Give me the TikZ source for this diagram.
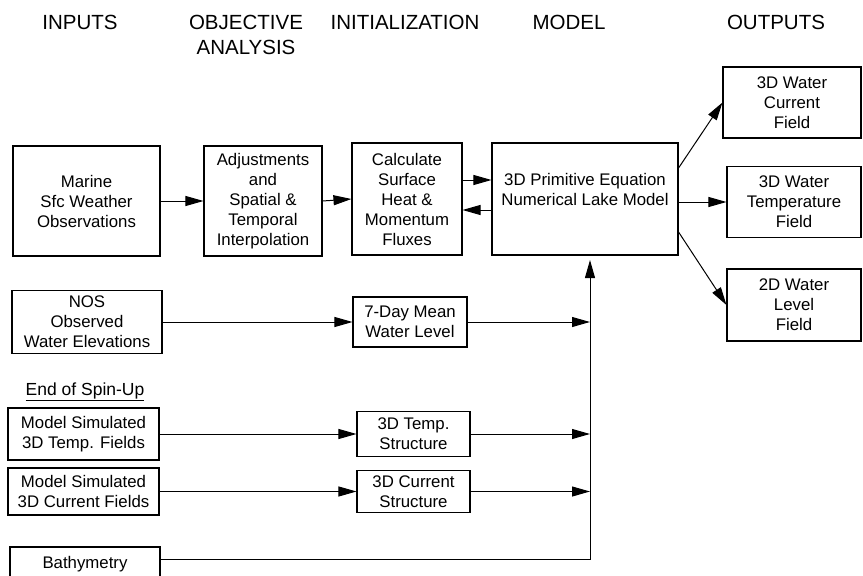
\documentclass[tikz,border=0pt]{standalone}
\usepackage{fontspec}
\setmainfont{Liberation Sans}
\usetikzlibrary{arrows.meta,positioning,calc}

\begin{document}
\begin{tikzpicture}[
    x=1pt, y=-1pt,
    box/.style={rectangle, draw, line width=1.1pt, align=center, inner sep=2pt, font=\fontsize{16.8}{20}\selectfont},
    header/.style={align=center, inner sep=0pt, font=\fontsize{20.5}{25}\selectfont},
    arrow/.style={-{Triangle[length=18pt,width=10pt]}, line width=1pt}
]
\useasboundingbox (0,0) rectangle (863,576);

% Column headings
\node[header] (hinputs) at (80,22) {INPUTS};
\node[header] (hobjana) at (246,34.5) {OBJECTIVE\\ANALYSIS};
\node[header] (hinit) at (405,22) {INITIALIZATION};
\node[header] (hmodel) at (569,22) {MODEL};
\node[header] (houtputs) at (776,22) {OUTPUTS};

% Main chain
\node[box, minimum width=147pt, minimum height=110pt] (marine) at (86.5,201) {Marine\\Sfc Weather\\Observations};
\node[box, minimum width=118pt, minimum height=110pt] (adjust) at (263,201) {Adjustments\\and\\Spatial \&\\Temporal\\Interpolation};
\node[box, minimum width=110pt, minimum height=112pt] (calc) at (407,199) {Calculate\\Surface\\Heat \&\\Momentum\\Fluxes};
\node[box, minimum width=186pt, minimum height=112pt] (model) at (585,199) {3D Primitive Equation\\Numerical Lake Model\\~};

% Outputs
\node[box, minimum width=138pt, minimum height=71pt] (curout) at (792,102.5) {3D Water\\Current\\Field};
\node[box, minimum width=134pt, minimum height=71pt] (tempout) at (794,202) {3D Water\\Temperature\\Field};
\node[box, minimum width=134pt, minimum height=72pt] (levout) at (794,305) {2D Water\\Level\\Field};

% Other inputs
\node[box, minimum width=150pt, minimum height=63pt] (nos) at (87,322) {NOS\\Observed\\Water Elevations};
\node[box, minimum width=114pt, minimum height=50pt] (wlevel) at (410,322) {7-Day Mean\\Water Level};
\node[inner sep=0pt, font=\fontsize{17.5}{20}\selectfont] (spinup) at (85,392) {\underline{End of Spin-Up}};
\node[box, minimum width=151pt, minimum height=52pt] (tempfld) at (83.5,434) {Model Simulated\\3D Temp. Fields};
\node[box, minimum width=151pt, minimum height=47pt] (curfld) at (83.5,491.5) {Model Simulated\\3D Current Fields};
\node[box, minimum width=113pt, minimum height=45pt] (tempstr) at (413.5,434) {3D Temp.\\Structure};
\node[box, minimum width=113pt, minimum height=42pt] (curstr) at (413.5,491.5) {3D Current\\Structure};
\node[box, minimum width=150pt, minimum height=34pt] (bathy) at (85,564) {Bathymetry};

\coordinate (busbot) at (590,559);
\coordinate (bustop) at (590,260);

\draw[arrow] (marine.east) -- (adjust.west);
\draw[arrow] (adjust.east) -- (calc.west);
\draw[arrow] ([yshift=19pt]calc.east) -- ([yshift=19pt]model.west);
\draw[arrow] ([yshift=-11pt]model.west) -- ([yshift=-11pt]calc.east);

\draw[arrow] ([yshift=31pt]model.east) -- (curout.west);
\draw[arrow] ([yshift=-3pt]model.east) -- (tempout.west);
\draw[arrow] ([yshift=-33pt]model.east) -- (levout.west);

\draw[arrow] (nos.east) -- (wlevel.west);
\draw[arrow] (tempfld.east) -- (tempstr.west);
\draw[arrow] (curfld.east) -- (curstr.west);

% Collector line into the model
\draw[arrow] (wlevel.east) -- (wlevel.east -| busbot);
\draw[arrow] (tempstr.east) -- (tempstr.east -| busbot);
\draw[arrow] (curstr.east) -- (curstr.east -| busbot);
\draw[arrow] (bathy.east |- busbot) -- (busbot) -- (bustop);

\end{tikzpicture}
\end{document}
